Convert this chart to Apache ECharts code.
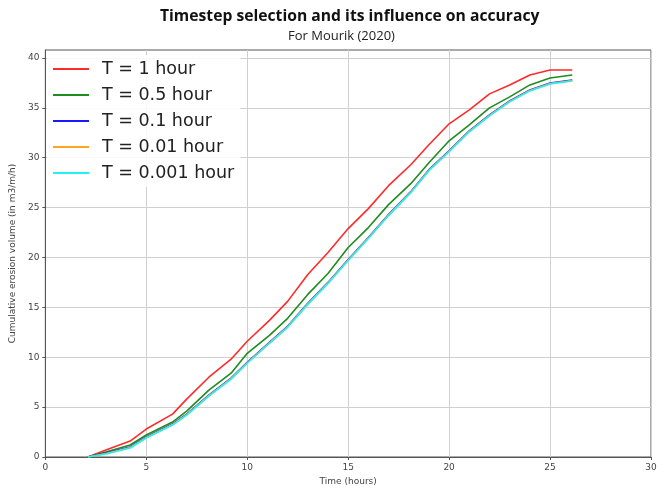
<!DOCTYPE html>
<html>
<head>
<meta charset="utf-8">
<script src="https://cdn.jsdelivr.net/npm/echarts@6/dist/echarts.min.js"></script>
<style>
  html, body { margin: 0; padding: 0; background: #fff; }
  #chart { width: 665px; height: 491px; }
</style>
</head>
<body>
<div id="chart"></div>
<script>
// Time stamps (hours) of the computed cumulative volumes
const times = [2.1, 3, 4.2, 5, 6.3, 7, 8.1, 9.2, 10, 11.1, 12, 13, 14, 15, 16, 17, 18.1, 19, 20, 21, 22, 23, 24, 25, 26.1];

// Cumulative erosion volume (m3/m/h) per timestep size
const vol1h    = [0, 0.7, 1.6, 2.8, 4.3, 5.8, 8.0, 9.8, 11.6, 13.7, 15.6, 18.3, 20.5, 22.9, 24.9, 27.2, 29.3, 31.3, 33.4, 34.8, 36.4, 37.3, 38.3, 38.8, 38.8];
const vol05h   = [0, 0.5, 1.2, 2.2, 3.5, 4.6, 6.7, 8.4, 10.4, 12.2, 13.9, 16.3, 18.4, 21.0, 23.0, 25.3, 27.4, 29.5, 31.7, 33.3, 35.0, 36.1, 37.3, 38.0, 38.3];
const vol01h   = [0, 0.4, 1.0, 2.0, 3.3, 4.3, 6.2, 7.9, 9.5, 11.5, 13.1, 15.4, 17.5, 19.8, 22.0, 24.3, 26.6, 28.8, 30.7, 32.7, 34.3, 35.7, 36.8, 37.5, 37.8];
const vol001h  = [0, 0.35, 0.95, 1.95, 3.25, 4.25, 6.15, 7.85, 9.45, 11.45, 13.05, 15.35, 17.45, 19.75, 21.95, 24.25, 26.55, 28.75, 30.65, 32.65, 34.25, 35.65, 36.75, 37.45, 37.75];
const vol0001h = [0, 0.3, 0.9, 1.9, 3.2, 4.2, 6.1, 7.8, 9.4, 11.4, 13.0, 15.3, 17.4, 19.7, 21.9, 24.2, 26.5, 28.7, 30.6, 32.6, 34.2, 35.6, 36.7, 37.4, 37.7];

const seriesNames = ['T = 1 hour', 'T = 0.5 hour', 'T = 0.1 hour', 'T = 0.01 hour', 'T = 0.001 hour'];
const seriesColors = ['#ff2a2a', '#1f8c1f', '#1a1aff', '#ffa620', '#22f2f2'];
const seriesValues = [vol1h, vol05h, vol01h, vol001h, vol0001h];

const xTicks = [0, 5, 10, 15, 20, 25, 30];
const yTicks = [0, 5, 10, 15, 20, 25, 30, 35, 40];

const chart = echarts.init(document.getElementById('chart'), null, { renderer: 'canvas' });

const axisFont = { fontFamily: 'DejaVu Sans', fontSize: 9, color: '#444' };

chart.setOption({
  animation: false,
  backgroundColor: '#fff',
  title: [
    {
      text: 'Timestep selection and its influence on accuracy',
      left: 155, top: 4,
      textStyle: { fontFamily: 'Open Sans', fontWeight: 'bold', fontSize: 15.7, color: '#111' }
    },
    {
      text: 'For Mourik (2020)',
      left: 283, top: 25,
      textStyle: { fontFamily: 'Open Sans', fontWeight: 'normal', fontSize: 13, color: '#222' }
    }
  ],
  grid: {
    left: 45, right: 14, top: 50, bottom: 28,
    show: true, borderColor: '#555', borderWidth: 1, backgroundColor: 'transparent'
  },
  legend: {
    orient: 'vertical',
    left: 47, top: 55,
    padding: [4, 6, 4, 6],
    backgroundColor: 'rgba(255,255,255,0.85)',
    itemWidth: 36, itemHeight: 2, itemGap: 6,
    icon: 'rect',
    textStyle: { fontFamily: 'DejaVu Sans', fontSize: 17.5, color: '#222', lineHeight: 20, padding: [0, 0, 0, 8] },
    data: seriesNames
  },
  xAxis: {
    type: 'value',
    min: 0, max: 30, interval: 5,
    name: 'Time (hours)',
    nameLocation: 'middle', nameGap: 20,
    nameTextStyle: axisFont,
    axisLine: { show: true, onZero: false, lineStyle: { color: '#555', width: 1 } },
    axisTick: { show: true, length: 3, lineStyle: { color: '#555' } },
    axisLabel: Object.assign({ margin: 6, customValues: xTicks }, axisFont),
    splitLine: { show: true, lineStyle: { color: '#d0d0d0', width: 1 } }
  },
  yAxis: {
    type: 'value',
    min: 0, max: 40.8, interval: 5,
    name: 'Cumulative erosion volume (in m3/m/h)',
    nameLocation: 'middle', nameGap: 22, nameRotate: 90,
    nameTextStyle: axisFont,
    axisLine: { show: true, onZero: false, lineStyle: { color: '#555', width: 1 } },
    axisTick: { show: true, length: 3, lineStyle: { color: '#555' }, customValues: yTicks },
    axisLabel: Object.assign({ margin: 6, customValues: yTicks,
      formatter: v => (v % 5 === 0 ? String(v) : '') }, axisFont),
    splitLine: { show: true, lineStyle: { color: '#d0d0d0', width: 1 } }
  },
  series: seriesNames.map((name, i) => ({
    name: name,
    type: 'line',
    data: times.map((t, k) => [t, seriesValues[i][k]]),
    showSymbol: false,
    symbol: 'none',
    lineStyle: { color: seriesColors[i], width: 1.6 },
    itemStyle: { color: seriesColors[i] },
    z: 2 + i
  }))
});
</script>
</body>
</html>
